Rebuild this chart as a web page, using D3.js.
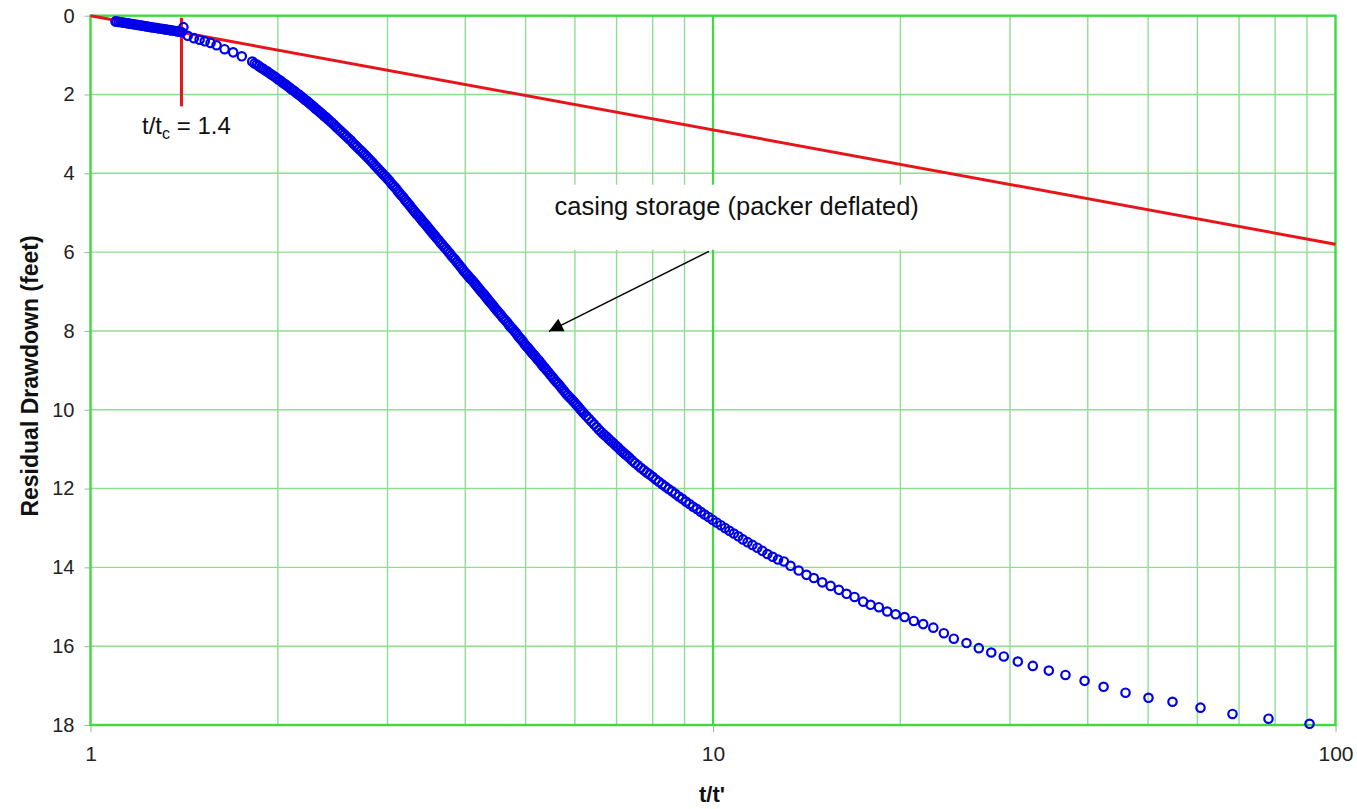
<!DOCTYPE html>
<html><head><meta charset="utf-8">
<script src="https://cdn.jsdelivr.net/npm/d3@7"></script>
<style>body{margin:0;background:#fff}svg{display:block}text{font-family:Arial,"Liberation Sans",sans-serif}</style>
</head><body><svg id="c" width="1357" height="809"></svg>
<script>
// ---- data (t/t' , residual drawdown in feet) ----
const earlyT=[1.097,1.10,1.11,1.12,1.13,1.14,1.15,1.16,1.17,1.18,1.19,1.20,1.21,1.22,1.23,1.24,1.25,1.26,1.27,1.28,1.29,1.30,1.31,1.32,1.33,1.34,1.35,1.36,1.37,1.38,1.39,1.40,1.41];
const earlyDD=[0.145,0.15,0.157,0.167,0.176,0.186,0.195,0.205,0.214,0.224,0.233,0.243,0.252,0.262,0.271,0.281,0.29,0.298,0.307,0.315,0.323,0.332,0.34,0.348,0.357,0.365,0.373,0.382,0.39,0.398,0.407,0.415,0.29];
const sparseT=[1.433,1.466,1.497,1.526,1.559,1.594,1.642,1.695,1.75,1.819];
const sparseDD=[0.51,0.57,0.61,0.65,0.69,0.75,0.85,0.93,1.03,1.165];
const bandT=[1.835,1.85,1.865,1.88,1.895,1.91,1.925,1.94,1.955,1.97,1.985,2.0,
2.015,2.03,2.045,2.06,2.075,2.09,2.105,2.12,2.135,2.15,2.165,2.18,2.195,2.21,2.225,2.24,2.255,2.27,2.285,2.30,2.315,2.33,2.345,2.36,2.375,2.39,2.405,
2.42,2.44,2.46,2.48,2.50,2.52,2.54,2.56,2.58,2.60,2.62,2.64,2.66,2.68,2.70,2.72,2.74,2.76,2.78,2.80,2.82,2.84,2.86,2.88,2.90,2.92,2.94,2.96,2.98,3.00,
3.02,3.04,3.06,3.08,3.10,3.12,3.14,3.16,3.18,3.20,3.22,3.24,3.26,3.28,3.30,3.32,3.34,3.36,3.38,3.40,3.42,3.44,3.46,3.48,3.50,3.52,3.54,3.56,3.58,3.60,
3.625,3.65,3.675,3.70,3.725,3.75,3.775,3.80,3.825,3.85,3.875,3.90,3.925,3.95,3.975,4.00,4.025,4.05,4.075,4.10,4.125,4.15,4.175,4.20,4.225,4.25,4.275,4.30,4.325,4.35,4.375,4.40,4.425,4.45,4.475,4.50,
4.53,4.56,4.59,4.62,4.65,4.68,4.71,4.74,4.77,4.80,4.83,4.86,4.89,4.92,4.95,4.98,5.01,5.04,5.07,5.10,5.13,5.16,5.19,5.22,5.25,5.28,5.31,5.34,5.37,5.40,
5.44,5.48,5.52,5.56,5.60,5.64,5.68,5.72,5.76,5.80,5.84,5.88,5.92,5.96,6.00,6.04,6.08,6.12,6.16,6.20,
6.26,6.32,6.38,6.44,6.50,6.56,6.62,6.68,6.74,6.80,6.86,6.92,6.98,7.04,7.10,7.16,7.22,7.28,7.34,
7.417,7.494,7.573,7.654,7.738,7.823,7.910,8.0,8.092,8.187,8.284,8.384,8.486,8.592,8.70,8.812,8.926,9.045,9.167,9.292,9.422,9.556,9.694,9.836,9.983,10.136,10.293,10.456,10.625,10.80,10.981,11.17,11.365,11.569,11.78,12.0,12.229,12.468,12.717];
const bandDD=[1.21,1.24,1.28,1.32,1.35,1.39,1.42,1.46,1.50,1.53,1.57,1.61,
1.64,1.68,1.72,1.75,1.79,1.83,1.87,1.90,1.94,1.98,2.01,2.05,2.09,2.13,2.16,2.20,2.24,2.28,2.32,2.36,2.39,2.43,2.47,2.51,2.55,2.58,2.62,
2.66,2.71,2.76,2.82,2.87,2.92,2.97,3.02,3.07,3.12,3.17,3.23,3.28,3.33,3.38,3.43,3.48,3.53,3.58,3.63,3.68,3.73,3.79,3.84,3.89,3.94,3.99,4.04,4.09,4.14,
4.19,4.25,4.30,4.35,4.40,4.46,4.51,4.56,4.61,4.67,4.72,4.77,4.82,4.88,4.93,4.98,5.03,5.07,5.12,5.17,5.22,5.27,5.31,5.36,5.41,5.46,5.51,5.55,5.60,5.65,
5.70,5.76,5.81,5.87,5.92,5.98,6.03,6.09,6.14,6.19,6.25,6.30,6.36,6.41,6.47,6.52,6.57,6.62,6.67,6.71,6.76,6.81,6.86,6.91,6.96,7.01,7.05,7.10,7.15,7.20,7.25,7.30,7.34,7.39,7.44,7.49,
7.54,7.59,7.65,7.70,7.75,7.80,7.86,7.91,7.96,8.01,8.06,8.12,8.17,8.22,8.27,8.33,8.38,8.42,8.47,8.52,8.57,8.61,8.66,8.71,8.75,8.80,8.85,8.90,8.94,8.99,
9.05,9.11,9.17,9.23,9.29,9.34,9.40,9.46,9.52,9.58,9.63,9.68,9.73,9.78,9.83,9.88,9.93,9.99,10.04,10.09,
10.16,10.23,10.30,10.37,10.44,10.51,10.57,10.63,10.68,10.74,10.80,10.85,10.91,10.96,11.02,11.07,11.12,11.17,11.22,
11.29,11.35,11.41,11.47,11.53,11.59,11.64,11.70,11.77,11.83,11.89,11.95,12.01,12.07,12.13,12.20,12.26,12.33,12.39,12.46,12.52,12.59,12.66,12.72,12.79,12.86,12.93,13.00,13.07,13.14,13.21,13.29,13.36,13.43,13.50,13.58,13.66,13.73,13.80];
const tailT=[13.0,13.32,13.73,14.13,14.52,14.98,15.45,15.93,16.39,16.88,17.43,17.91,18.47,19.05,19.65,20.31,21.02,21.76,22.59,23.49,24.37,25.54,26.73,27.99,29.32,30.88,32.64,34.63,36.83,39.53,42.41,45.99,50.07,54.72,60.69,68.32,78.05,90.85];
const tailDD=[13.85,13.96,14.08,14.19,14.27,14.38,14.47,14.57,14.67,14.75,14.87,14.95,15.01,15.12,15.19,15.26,15.36,15.44,15.53,15.67,15.81,15.92,16.05,16.16,16.26,16.39,16.50,16.62,16.73,16.88,17.03,17.18,17.31,17.41,17.56,17.72,17.84,17.97];
const storageLineT=[1,100];
const storageLineDD=[0,5.8];
const markerT=[1.4,1.4];
const markerDD=[0.05,2.3];
const yTicks=[0,2,4,6,8,10,12,14,16,18];
const xTickLabels=[1,10,100];
const xMinorGrid=[2,3,4,5,6,7,8,9,20,30,40,50,60,70,80,90];

// ---- layout ----
const svg=d3.select("#c");
const L=90.5,R=1335.5,T=15.7,B=725;
const x=d3.scaleLog().domain([1,100]).range([L,R]);
const y=d3.scaleLinear().domain([0,18]).range([T,B]);
const minorCol="#8fde8f", majorCol="#3ddc3d";

// grid
const g=svg.append("g");
g.selectAll("line.h").data(yTicks.filter(d=>d>0&&d<18)).join("line")
 .attr("x1",L).attr("x2",R).attr("y1",d=>y(d)).attr("y2",d=>y(d))
 .attr("stroke",minorCol).attr("stroke-width",1.4);
g.selectAll("line.v").data(xMinorGrid).join("line")
 .attr("x1",d=>x(d)).attr("x2",d=>x(d)).attr("y1",T).attr("y2",B)
 .attr("stroke",minorCol).attr("stroke-width",1.4);

// annotation background box (hides grid)
const boxT0=5.19, boxT1=22.8, boxD0=4.29, boxD1=5.94;
svg.append("rect").attr("x",x(boxT0)).attr("y",y(boxD0))
 .attr("width",x(boxT1)-x(boxT0)).attr("height",y(boxD1)-y(boxD0)).attr("fill","#fff");

// major vertical grid at 10
svg.append("line").attr("x1",x(10)).attr("x2",x(10)).attr("y1",T).attr("y2",y(boxD0))
 .attr("stroke",majorCol).attr("stroke-width",2.2);
svg.append("line").attr("x1",x(10)).attr("x2",x(10)).attr("y1",y(boxD1)).attr("y2",B)
 .attr("stroke",majorCol).attr("stroke-width",2.2);

// axes
const ya=svg.append("g").attr("transform",`translate(${L},0)`)
 .call(d3.axisLeft(y).tickValues(yTicks).tickSize(6).tickPadding(10));
const xa=svg.append("g").attr("transform",`translate(0,${B})`)
 .call(d3.axisBottom(x).tickValues(xTickLabels).tickFormat(d3.format("d")).tickSize(7).tickPadding(14));
[ya,xa].forEach(a=>{a.select(".domain").remove();
 a.selectAll(".tick line").attr("stroke","#aaa");
 a.selectAll("text").attr("font-size","20px").attr("fill","#222").attr("font-family","Arial, 'Liberation Sans', sans-serif");});
xa.selectAll("text").attr("font-size","21px");

// border
svg.append("rect").attr("x",L).attr("y",T).attr("width",R-L).attr("height",B-T)
 .attr("fill","none").attr("stroke",majorCol).attr("stroke-width",2.4);

// storage line and marker
const ln=d3.line().x(d=>x(d[0])).y(d=>y(d[1]));
svg.append("path").attr("d",ln(d3.zip(storageLineT,storageLineDD)))
 .attr("stroke","#e8141c").attr("stroke-width",3).attr("fill","none");
svg.append("path").attr("d",ln(d3.zip(markerT,markerDD)))
 .attr("stroke","#e8141c").attr("stroke-width",3).attr("fill","none");

// data points
const pts=[].concat(d3.zip(earlyT,earlyDD),d3.zip(sparseT,sparseDD),d3.zip(bandT,bandDD),d3.zip(tailT,tailDD));
svg.append("g").selectAll("circle").data(pts).join("circle")
 .attr("cx",d=>x(d[0])).attr("cy",d=>y(d[1])).attr("r",4.2)
 .attr("fill","none").attr("stroke","#0000e8").attr("stroke-width",2.2);

// annotation text + arrow
svg.append("defs").append("marker").attr("id","ah").attr("viewBox","0 0 10 10")
 .attr("refX",10).attr("refY",5).attr("markerWidth",18).attr("markerHeight",14)
 .attr("markerUnits","userSpaceOnUse").attr("orient","auto")
 .append("path").attr("d","M0,0L10,5L0,10Z").attr("fill","#000");
svg.append("line").attr("x1",x(9.85)).attr("y1",y(5.98)).attr("x2",x(5.45)).attr("y2",y(8.01))
 .attr("stroke","#000").attr("stroke-width",1.5).attr("marker-end","url(#ah)");
svg.append("text").attr("x",x(5.565)).attr("y",y(5.05)).attr("font-size","25.5px").attr("fill","#111")
 .text("casing storage (packer deflated)");
const lab=svg.append("text").attr("x",x(1.21)).attr("y",y(3.0)).attr("font-size","24px").attr("fill","#111");
lab.append("tspan").text("t/t");
lab.append("tspan").attr("font-size","16px").attr("dy",5).text("c");
lab.append("tspan").attr("dy",-5).text(" = 1.4");

// axis titles
svg.append("text").attr("x",712).attr("y",802).attr("text-anchor","middle")
 .attr("font-size","22px").attr("font-weight","bold").attr("fill","#111").text("t/t'");
svg.append("text").attr("transform","translate(38,376) rotate(-90)").attr("text-anchor","middle")
 .attr("font-size","23px").attr("font-weight","bold").attr("fill","#111").text("Residual Drawdown (feet)");
</script></body></html>
